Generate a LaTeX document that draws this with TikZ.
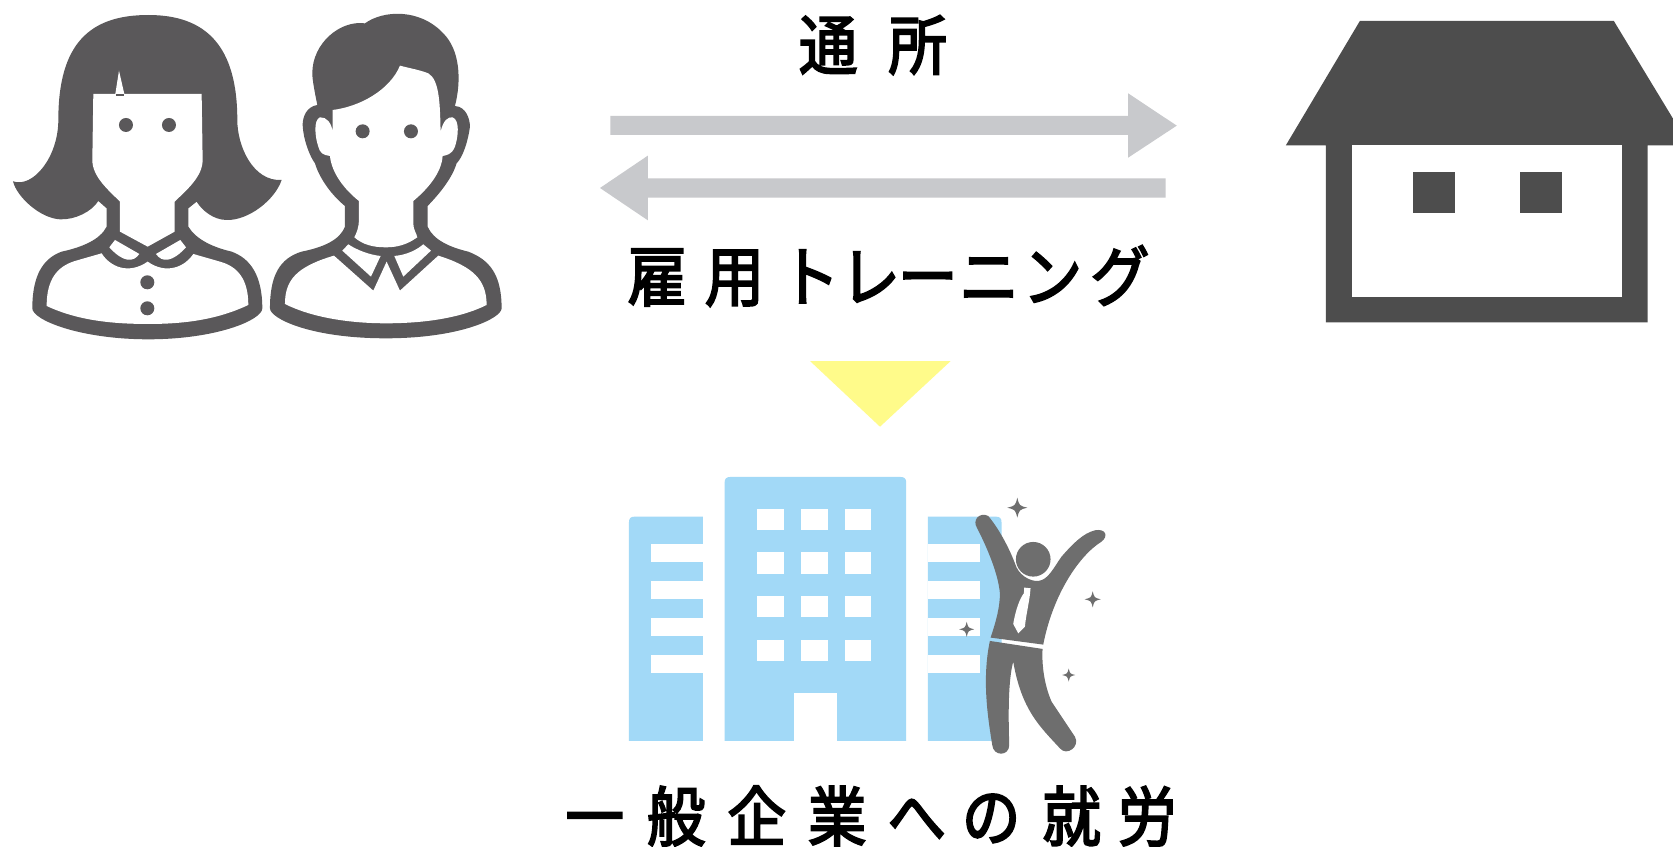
\documentclass[tikz,border=0pt]{standalone}
\usepackage{fontspec}
\newfontfamily\jp[FakeStretch=0.9,FakeBold=3]{Noto Sans CJK JP}
\definecolor{icon}{HTML}{5A585A}
\definecolor{housec}{HTML}{4D4D4D}
\definecolor{arrowc}{HTML}{C8C9CC}
\definecolor{yel}{HTML}{FFFB8A}
\definecolor{bld}{HTML}{A2D9F7}
\definecolor{man}{HTML}{6E6E6E}
\tikzset{
  darkfill/.style={fill=icon,draw=none},
  whitefill/.style={fill=white,draw=none},
  arrowshape/.style={fill=arrowc,draw=none},
  bldfill/.style={fill=bld,draw=none},
  manfill/.style={fill=man,draw=none},
  zoomed/.style={x=0.3333pt,y=-0.3333pt},
  label/.style={inner sep=0pt,outer sep=0pt,text=black},
}
\newcommand{\sparkle}[3]{%
  \fill[man] (#1,#2-#3) .. controls (#1+.2*#3,#2-.2*#3) .. (#1+#3,#2)
    .. controls (#1+.2*#3,#2+.2*#3) .. (#1,#2+#3)
    .. controls (#1-.2*#3,#2+.2*#3) .. (#1-#3,#2)
    .. controls (#1-.2*#3,#2-.2*#3) .. (#1,#2-#3) -- cycle;}
\begin{document}
\begin{tikzpicture}[x=1pt,y=-1pt]
\useasboundingbox (0,0) rectangle (1673,846);
\clip (0,0) rectangle (1673,846);
\fill[white] (0,0) rectangle (1673,846);

% woman
\begin{scope}[zoomed]
\fill[darkfill] (39,544) .. controls (100,565) and (175,470) .. (175,360)
  .. controls (175,130) and (270,45) .. (445,45)
  .. controls (620,45) and (712,140) .. (712,360)
  .. controls (712,440) and (760,545) .. (845,540)
  .. controls (825,600) and (745,662) .. (680,660)
  .. controls (640,660) and (605,630) .. (590,605)
  -- (565,625) -- (565,680)
  .. controls (590,720) and (640,742) .. (695,755)
  .. controls (750,775) and (787,825) .. (787,925)
  .. controls (787,960) and (650,1018) .. (445,1018)
  .. controls (240,1018) and (97,960) .. (97,925)
  .. controls (97,825) and (130,775) .. (185,755)
  .. controls (245,742) and (300,720) .. (320,680)
  -- (320,625) -- (295,603)
  .. controls (275,635) and (225,660) .. (180,658)
  .. controls (120,655) and (50,590) .. (39,544) -- cycle;
\fill[whitefill] (280,282) -- (346,282) -- (357,212) -- (373,282) -- (605,282) -- (608,480)
  .. controls (608,530) and (560,570) .. (524,605) -- (524,695) -- (443,740) -- (360,695) -- (360,605)
  .. controls (325,570) and (277,530) .. (277,480) -- cycle;
\fill[darkfill] (347,283) rectangle (373,288);
\fill[whitefill] (345,720) -- (418,762) .. controls (400,788) and (370,788) .. (328,742) -- cycle;
\fill[whitefill] (541,720) -- (468,762) .. controls (486,788) and (516,788) .. (558,742) -- cycle;
\fill[whitefill] (140,918) .. controls (140,840) and (170,800) .. (225,783) -- (305,760)
  .. controls (330,800) and (385,825) .. (443,785)
  .. controls (500,825) and (555,800) .. (580,762) -- (660,785)
  .. controls (715,800) and (745,840) .. (745,915)
  .. controls (650,960) and (550,972) .. (445,972)
  .. controls (330,972) and (230,960) .. (140,918) -- cycle;
\foreach \p in {(378,375),(507,375),(442,847),(442,925)}
  \fill[darkfill] \p circle[radius=21];
\end{scope}

% man
\begin{scope}[zoomed,shift={(780,0)}]
\fill[darkfill] (315,70) .. controls (370,30) and (480,25) .. (550,100)
  .. controls (600,150) and (605,240) .. (585,318)
  .. controls (620,320) and (630,360) .. (630,380)
  .. controls (625,420) and (610,470) .. (590,490)
  .. controls (575,540) and (530,590) .. (503,618) -- (503,680)
  .. controls (520,720) and (570,742) .. (625,755)
  .. controls (690,780) and (725,825) .. (725,925)
  .. controls (725,955) and (600,1015) .. (378,1015)
  .. controls (150,1015) and (30,955) .. (30,925)
  .. controls (30,825) and (60,775) .. (125,755)
  .. controls (190,742) and (240,720) .. (255,680) -- (255,618)
  .. controls (220,590) and (180,540) .. (165,490)
  .. controls (150,470) and (130,420) .. (128,375)
  .. controls (128,350) and (140,320) .. (172,315)
  .. controls (165,280) and (157,240) .. (157,220)
  .. controls (157,130) and (240,60) .. (315,70) -- cycle;
\fill[whitefill] (218,330) .. controls (300,320) and (390,270) .. (420,197)
  .. controls (450,205) and (480,210) .. (505,220)
  .. controls (540,240) and (540,320) .. (542,395)
  .. controls (550,360) and (565,350) .. (578,352)
  .. controls (600,360) and (595,410) .. (585,440)
  .. controls (575,465) and (560,465) .. (548,468)
  .. controls (545,520) and (500,570) .. (460,603) -- (460,670)
  .. controls (460,690) and (470,700) .. (472,712)
  .. controls (440,735) and (410,742) .. (378,742)
  .. controls (340,742) and (310,735) .. (283,712)
  .. controls (290,700) and (297,680) .. (297,660) -- (297,603)
  .. controls (255,570) and (215,520) .. (210,468)
  .. controls (190,465) and (180,460) .. (175,440)
  .. controls (165,410) and (160,360) .. (180,352)
  .. controls (200,350) and (215,370) .. (218,395) -- cycle;
\fill[whitefill] (265,733) .. controls (290,750) and (330,765) .. (362,768) -- (333,830) -- (247,752) -- cycle;
\fill[whitefill] (403,768) .. controls (440,765) and (470,750) .. (490,733) -- (513,752) -- (430,830) -- cycle;
\fill[whitefill] (75,912) .. controls (75,840) and (110,800) .. (222,767) -- (340,872) -- (380,785) -- (420,872) -- (535,767)
  .. controls (640,800) and (680,840) .. (680,915)
  .. controls (600,955) and (490,970) .. (378,970)
  .. controls (260,970) and (150,950) .. (75,912) -- cycle;
\foreach \p in {(308,394),(453,394)}
  \fill[darkfill] \p circle[radius=21];
\end{scope}

% house
\begin{scope}[zoomed,shift={(3810,0)}]
\fill[housec] (270,63) -- (1032,63) -- (1209,355) -- (1209,436) -- (1133,436) -- (1133,967) -- (168,967) -- (168,436) -- (48,436) -- cycle;
\fill[whitefill] (245,436) rectangle (1057,892);
\fill[housec] (429,515) rectangle (555,640);
\fill[housec] (750,515) rectangle (877,640);
\end{scope}

% arrows
\begin{scope}[x=0.3827pt,y=-0.3333pt,shift={(1567.8,0)}]
\fill[arrowshape] (27,348) -- (1380,348) -- (1380,280) -- (1507,377) -- (1380,473) -- (1380,405) -- (27,405) -- cycle;
\fill[arrowshape] (1478,535) -- (125,535) -- (125,467) -- (0,564) -- (125,661) -- (125,593) -- (1478,593) -- cycle;
\end{scope}

% yellow triangle
\fill[yel] (810,361) -- (950.7,361) -- (880,426.7) -- cycle;

% buildings
\begin{scope}[zoomed,shift={(1860,1410)}]
\fill[bldfill] (27,813) -- (27,158) .. controls (27,145) and (32,140) .. (45,140) -- (249,140) -- (249,813) -- cycle;
\fill[bldfill] (314,813) -- (314,39) .. controls (314,26) and (319,21) .. (332,21) -- (841,21) .. controls (854,21) and (859,26) .. (859,39) -- (859,813) -- cycle;
\fill[bldfill] (924,813) -- (924,140) -- (1127,140) .. controls (1140,140) and (1145,145) .. (1145,158) -- (1145,813) -- cycle;
\foreach \a/\b in {222/275,332/386,443/497,555/608}{
  \fill[whitefill] (93,\a) rectangle (249,\b);
  \fill[whitefill] (924,\a) rectangle (1080,\b);
}
\foreach \a/\b in {117/180,247/311,378/441,509/573}{
  \fill[whitefill] (412,\a) rectangle (491,\b);
  \fill[whitefill] (543,\a) rectangle (623,\b);
  \fill[whitefill] (675,\a) rectangle (753,\b);
}
\fill[whitefill] (522,668) rectangle (651,813);
\end{scope}

% person
\begin{scope}[zoomed,shift={(2850,1440)}]
\fill[manfill] (250,238) circle[radius=52];
\fill[manfill] (115,108) .. controls (150,150) and (180,210) .. (195,250)
  .. controls (205,285) and (240,305) .. (265,303)
  .. controls (295,300) and (310,265) .. (335,230)
  .. controls (370,190) and (400,160) .. (435,151)
  .. controls (470,145) and (475,170) .. (455,185)
  .. controls (390,225) and (310,340) .. (280,494)
  -- (122,473)
  .. controls (140,420) and (150,380) .. (150,340)
  .. controls (145,280) and (110,200) .. (82,145)
  .. controls (65,120) and (90,95) .. (115,108) -- cycle;
\fill[whitefill] (223,323) -- (242,325) -- (240,345) .. controls (235,380) and (228,410) .. (225,440) -- (205,460) -- (190,432)
  .. controls (197,390) and (210,355) .. (222,340) -- cycle;
\fill[manfill] (120,483) -- (278,507)
  .. controls (275,560) and (285,620) .. (305,665) -- (375,770)
  .. controls (392,800) and (350,830) .. (330,805)
  .. controls (270,740) and (215,690) .. (190,545)
  .. controls (175,600) and (175,700) .. (178,795)
  .. controls (178,830) and (130,830) .. (127,795)
  .. controls (115,720) and (95,600) .. (120,483) -- cycle;
\end{scope}
\sparkle{1017.3}{507.7}{10}
\sparkle{1092.7}{599.3}{8}
\sparkle{966.7}{629.3}{7.5}
\sparkle{1068.7}{675}{6.5}

% labels
\node[label,font=\jp\fontsize{65}{65}\selectfont] (tsusho) at (873,45) {通\kern 31pt 所};
\node[label,font=\jp\fontsize{66}{66}\selectfont] (koyo) at (888.5,276) {雇\kern 18pt 用\kern 16pt ト\kern 1pt レ\kern -2pt ー\kern 2pt ニ\kern 4pt ン\kern 8pt グ};
\node[label,font=\jp\fontsize{65}{65}\selectfont] (ippan) at (871,816) {一\kern 23pt 般\kern 22pt 企\kern 22pt 業\kern 21pt へ\kern 16pt の\kern 22pt 就\kern 17pt 労};
\end{tikzpicture}
\end{document}
